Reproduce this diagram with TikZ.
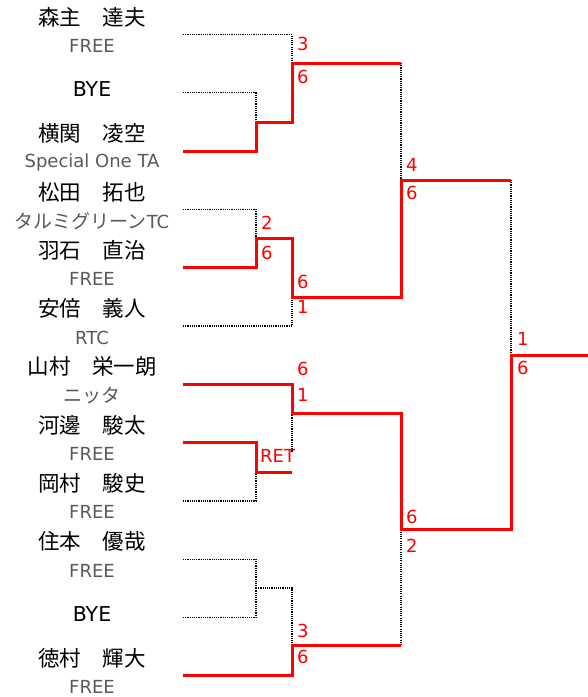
\documentclass[tikz,border=0pt]{standalone}
\usepackage{fontspec}
\setmainfont{DejaVu Sans}
\newfontfamily\jp{Noto Sans CJK JP}
\definecolor{winred}{RGB}{255,0,0}
\definecolor{clubgray}{RGB}{89,89,89}
\tikzset{
  win/.style={winred, line width=3pt},
  lose/.style={black, line width=1.2pt, dash pattern=on 1.1pt off 1.1pt},
  player/.style={font=\jp\fontsize{21.5}{25}\selectfont},
  byetext/.style={font=\fontsize{20.5}{24}\selectfont},
  club/.style={text=clubgray, font=\fontsize{18}{21}\selectfont},
  score/.style={text=winred, anchor=west, inner sep=0pt, font=\fontsize{18}{21}\selectfont}
}
\begin{document}
\begin{tikzpicture}[x=1pt,y=-1pt]
\useasboundingbox (0,0) rectangle (588,697);
%\draw[help lines] (0,0) grid[step=50] (588,697);
\foreach \i/\nm/\cl in {0/森主　達夫/FREE, 2/横関　凌空/Special One TA,
  3/松田　拓也/{\jp\fontsize{19}{21}\selectfont タルミグリーン}TC, 4/羽石　直治/FREE, 5/安倍　義人/RTC,
  6/山村　栄一朗/{\jp\fontsize{19}{21}\selectfont ニッタ}, 7/河邊　駿太/FREE, 8/岡村　駿史/FREE,
  9/住本　優哉/FREE, 11/徳村　輝大/FREE}
{
\node[player] (n\i) at (92,{34.5+58.3*\i-17.5}) {\nm};
\node[club] (c\i) at (92,{34.5+58.3*\i+11.5}) {\cl};
}
\foreach \i in {1,10}
\node[byetext] (n\i) at (92,{34.5+58.3*\i-3.5}) {BYE};
\foreach \i in {0,...,11}
\coordinate (a\i) at (183,{34.5+58.3*\i});
%
\coordinate (m1) at (256,122);
\coordinate (m2) at (256,238);
\coordinate (m3) at (256,472);
\coordinate (m4) at (256,588);
\coordinate (q1) at (292,63);
\coordinate (q2) at (292,297);
\coordinate (q3) at (292,413);
\coordinate (q4) at (292,645);
\coordinate (s1) at (401,180);
\coordinate (s2) at (401,529);
\coordinate (f) at (511,355);
\coordinate (champ) at (588,355);
\coordinate (ret) at (292,452);
%
\draw[lose] (a0) -| (q1);
\draw[lose] (a1) -| (m1);
\draw[lose] (a3) -| (m2);
\draw[lose] (a5) -| (q2);
\draw[lose] (a8) -| (m3);
\draw[lose] (q3) -- (ret);
\draw[lose] (a9) -| (m4);
\draw[lose] (a10) -| (m4);
\draw[lose] (m4) -| (q4);
\draw[lose] (q1 -| s1) -- (s1);
\draw[lose] (q4 -| s2) -- (s2);
\draw[lose] (s1 -| f) -- (f);
%
\draw[win] (a2) -| (m1) -| (q1) -- (q1 -| s1);
\draw[win] (a4) -| (m2) -| (q2) -| (s1) -- (s1 -| f);
\draw[win] (a7) -| (m3) -- (m3 -| q3);
\draw[win] (a11) -| (q4) -- (q4 -| s2);
\draw[win] (a6) -| (q3) -| (s2) -| (f) -- (champ);
%
\node[score] (q1a) at (297,44) {3};
\node[score] (q1b) at (297,77) {6};
\node[score] (m2a) at (261,223) {2};
\node[score] (m2b) at (261,253) {6};
\node[score] (q2a) at (297,282) {6};
\node[score] (q2b) at (297,307) {1};
\node[score] (s1a) at (406,165) {4};
\node[score] (s1b) at (406,193) {6};
\node[score] (q3a) at (297,369) {6};
\node[score] (q3b) at (297,395) {1};
\node[score] (m3a) at (260,456) {RET};
\node[score] (s2a) at (406,517) {6};
\node[score] (s2b) at (406,546) {2};
\node[score] (q4a) at (297,631) {3};
\node[score] (q4b) at (297,657) {6};
\node[score] (fa) at (517,339) {1};
\node[score] (fb) at (517,368) {6};
\end{tikzpicture}
\end{document}
